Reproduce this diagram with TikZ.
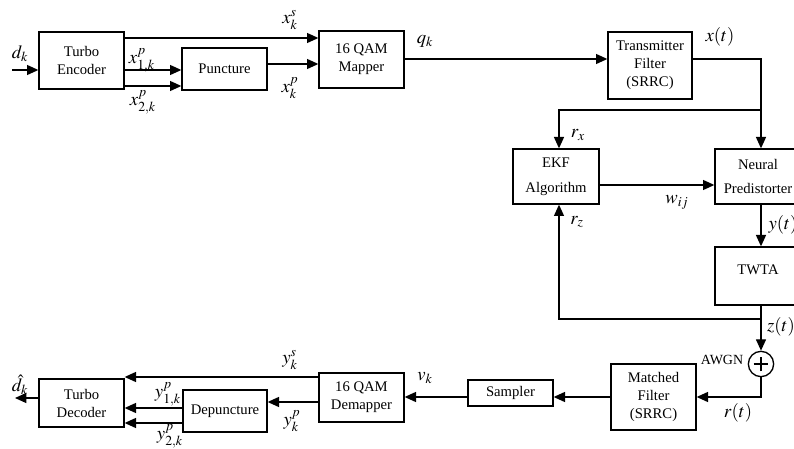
\documentclass[tikz,border=0pt]{standalone}
\usepackage{mathptmx}
\usepackage{fontspec}
\setmainfont{Liberation Serif}
\usetikzlibrary{arrows.meta}
\begin{document}
\begin{tikzpicture}[x=0.75pt,y=-0.75pt,
  box/.style={draw,line width=1pt,inner sep=0pt,align=center,font=\fontsize{11}{13.5}\selectfont},
  sz/.style 2 args={minimum width=#1*0.75pt,minimum height=#2*0.75pt},
  arr/.style={line width=1pt,-{Triangle[length=8.5pt,width=7.5pt]}},
  ln/.style={line width=1pt},
  lbl/.style={inner sep=0pt,font=\fontsize{14}{16}\selectfont},
  sm/.style={inner sep=0pt,font=\fontsize{10.5}{12}\selectfont}]
\useasboundingbox (0,0) rectangle (794,449);
% boxes
\node[box,sz={85}{57}] (enc) at (81.5,60.5) {Turbo\\Encoder};
\node[box,sz={85}{42}] (punc) at (224.5,69) {Puncture};
\node[box,sz={85}{57}] (map) at (361.5,59.5) {16 QAM\\Mapper};
\node[box,sz={84}{67}] (tx) at (650,65.5) {Transmitter\\Filter\\(SRRC)};
\node[box,sz={86}{55},font=\fontsize{11}{18.5}\selectfont] (ekf) at (556,176.5) {EKF\\Algorithm};
\node[box,sz={86}{55},font=\fontsize{11}{18.5}\selectfont] (np) at (758,176.5) {Neural\\Predistorter};
\node[box,sz={86}{58}] (twta) at (758,276) {};
\node[inner sep=0pt,font=\fontsize{11}{13.5}\selectfont] (twtat) at (758,270) {TWTA};
\node[draw,circle,line width=1pt,minimum size=19pt,inner sep=0pt] (sum) at (761,364) {};
\draw[line width=1pt] ([xshift=-5.6pt]sum.center) -- ([xshift=5.6pt]sum.center)
      ([yshift=-5.6pt]sum.center) -- ([yshift=5.6pt]sum.center);
\node[box,sz={85}{66}] (mf) at (653.5,397) {Matched\\Filter\\(SRRC)};
\node[box,sz={85}{26}] (samp) at (510.5,393) {Sampler};
\node[box,sz={85}{49}] (dem) at (361.5,397.5) {16 QAM\\Demapper};
\node[box,sz={84}{42}] (dep) at (225,411) {Depuncture};
\node[box,sz={85}{48}] (dec) at (81.5,403) {Turbo\\Decoder};
% coordinates
\coordinate (din) at (12,70);
\coordinate (dout) at (15,398);
\coordinate (c1) at (761,59);
\coordinate (c2) at (761,110);
\coordinate (c3) at (559,110);
\coordinate (c4) at (761,319);
\coordinate (c5) at (559,319);
\coordinate (c6) at (761,397);
% transmitter chain
\draw[arr] (din) -- (din -| enc.west);
\draw[arr] (enc.east |- 0,38) -- (map.west |- 0,38);
\draw[arr] (enc.east |- 0,70) -- (punc.west |- 0,70);
\draw[arr] (enc.east |- 0,86) -- (punc.west |- 0,86);
\draw[arr] (punc.east |- 0,64) -- (map.west |- 0,64);
\draw[arr] (map.east |- 0,59) -- (tx.west |- 0,59);
\draw[arr] (tx.east |- c1) -- (c1) -- (np.north -| c1);
\draw[arr] (c2) -- (c3) -- (ekf.north -| c3);
\draw[arr] (ekf.east |- 0,185) -- (np.west |- 0,185);
\draw[arr] (np.south -| c1) -- (twta.north -| c1);
\draw[arr] (twta.south -| c4) -- (sum.north);
\draw[arr] (c4) -- (c5) -- (ekf.south -| c5);
\draw[arr] (sum.south) -- (c6) -- (mf.east |- c6);
% receiver chain
\draw[arr] (mf.west |- c6) -- (samp.east |- c6);
\draw[arr] (samp.west |- c6) -- (dem.east |- c6);
\draw[arr] (dem.west |- 0,377) -- (dec.east |- 0,377);
\draw[arr] (dem.west |- 0,402) -- (dep.east |- 0,402);
\draw[arr] (dep.west |- 0,408) -- (dec.east |- 0,408);
\draw[arr] (dep.west |- 0,423) -- (dec.east |- 0,423);
\draw[arr] (dec.west |- dout) -- (dout);
% labels
\node[lbl] (ldk) at (20,54) {$d_k$};
\node[lbl] (lxs) at (290,20) {$x_k^s$};
\node[lbl] (lx1) at (142,60) {$x_{1,k}^p$};
\node[lbl] (lx2) at (143,102) {$x_{2,k}^p$};
\node[lbl] (lxp) at (290,88) {$x_k^p$};
\node[lbl] (lqk) at (425,41) {$q_k$};
\node[lbl] (lxt) at (720,37) {$x(t)$};
\node[lbl] (lrx) at (578,135) {$r_x$};
\node[lbl] (lw) at (677,202) {$w_{ij}$};
\node[lbl] (lrz) at (577,222) {$r_z$};
\node[lbl] (lyt) at (783,225) {$y(t)$};
\node[lbl] (lzt) at (781,327) {$z(t)$};
\node[sm] (lawgn) at (722,360) {AWGN};
\node[lbl] (lrt) at (738,413) {$r(t)$};
\node[lbl] (lvk) at (425,378) {$v_k$};
\node[lbl] (lys) at (290,360) {$y_k^s$};
\node[lbl] (lyp) at (292,421) {$y_k^p$};
\node[lbl] (ly1) at (168,394) {$y_{1,k}^p$};
\node[lbl] (ly2) at (170,436) {$y_{2,k}^p$};
\node[lbl] (ldh) at (20,385) {$\hat{d}_k$};
\end{tikzpicture}
\end{document}
